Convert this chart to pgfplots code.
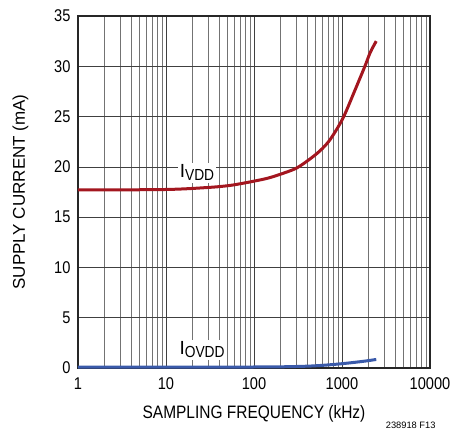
\documentclass[border=0pt]{standalone}
\usepackage{pgfplots}
\pgfplotsset{compat=1.18}
\usepackage{fontspec}
\setmainfont{Liberation Sans}
\newfontfamily\condfont{Liberation Sans}[FakeStretch=0.86]
\definecolor{cRed}{HTML}{A3161F}
\definecolor{cBlue}{HTML}{3A5AAA}
\begin{document}
\begin{tikzpicture}[x=1pt,y=1pt]
\useasboundingbox (-78,-61) rectangle (374,368);
\begin{axis}[
  at={(0,0)}, anchor=south west,
  scale only axis, width=352pt, height=352pt,
  xmode=log, xmin=1, xmax=10000, ymin=0, ymax=35,
  log basis x=10,
  xtick={1,10,100,1000,10000},
  xticklabels={1,10,100,1000,10000},
  ytick={0,5,...,35},
  minor xtick={2,3,4,5,6,7,8,9,20,30,40,50,60,70,80,90,200,300,400,500,600,700,800,900,2000,3000,4000,5000,6000,7000,8000,9000},
  grid=both,
  major grid style={black!75, line width=0.7pt},
  minor grid style={black!55, line width=0.7pt},
  axis line style={black!85, line width=1.2pt},
  major tick length=0pt, minor tick length=0pt,
  tick label style={font=\condfont\fontsize{17}{19}\selectfont},
  /pgf/number format/assume math mode=true,
  yticklabel style={xshift=-4pt},
  xticklabel style={yshift=-6pt},
  clip=false,
]
\addplot[cRed, line width=3pt, smooth, tension=0.5] coordinates {
 (1,17.7) (10,17.75) (30,17.95) (53,18.15) (90,18.5) (140,18.85) (197,19.25)
 (300,19.85) (420,20.7) (563,21.6) (731,22.7) (1020,24.8) (1400,27.6) (1820,30.0) (2100,31.4) (2450,32.5)};
\addplot[cBlue, line width=3pt, smooth, tension=0.5] coordinates {
 (1,0.08) (100,0.1) (300,0.15) (500,0.22) (800,0.35) (1200,0.5) (1800,0.68) (2450,0.85)};
\node[fill=white, inner sep=2pt] at (axis cs:22.5,19.4) {\fontsize{19}{19}\selectfont I\raisebox{-0.3ex}{\condfont\fontsize{16}{16}\selectfont VDD}};
\node[fill=white, inner sep=2pt] at (axis cs:25.7,1.8) {\fontsize{19}{19}\selectfont I\raisebox{-0.3ex}{\condfont\fontsize{16}{16}\selectfont OVDD}};
\end{axis}
\node[anchor=base, font=\condfont\fontsize{18}{20}\selectfont] at (176,-50) {SAMPLING FREQUENCY (kHz)};
\node[anchor=base, rotate=90, font=\fontsize{17}{19}\selectfont] at (-53,176) {SUPPLY CURRENT (mA)};
\node[anchor=base east, font=\fontsize{9.3}{10}\selectfont] at (361,-60) {238918 F13};
\end{tikzpicture}
\end{document}
